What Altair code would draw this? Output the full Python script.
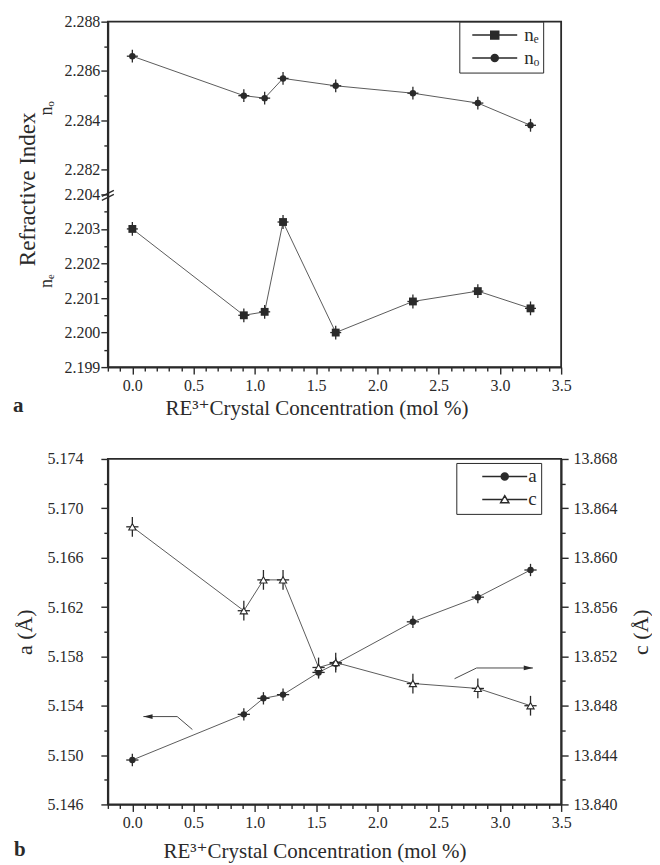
import altair as alt
import pandas as pd

# ---------------- data: panel (a) refractive index ----------------
conc_a = [0.0, 0.91, 1.08, 1.23, 1.66, 2.29, 2.82, 3.25]
n_o = [2.2866, 2.2850, 2.2849, 2.2857, 2.2854, 2.2851, 2.2847, 2.2838]
n_e = [2.2030, 2.2005, 2.2006, 2.2032, 2.2000, 2.2009, 2.2012, 2.2007]
n_o_err = [0.00026, 0.00026, 0.00026, 0.00026, 0.00026, 0.00026, 0.00026, 0.00026]
n_e_err = [0.0002, 0.0002, 0.0002, 0.0002, 0.0002, 0.0002, 0.0002, 0.0002]
conc_a_err = [0.045, 0.045, 0.045, 0.045, 0.045, 0.045, 0.045, 0.045]

# ---------------- data: panel (b) lattice parameters ----------------
conc_b = [0.0, 0.91, 1.07, 1.23, 1.52, 1.66, 2.29, 2.82, 3.25]
a_vals = [5.1496, 5.1533, 5.1546, 5.1549, 5.1567, 5.1574, 5.1608, 5.1628, 5.1650]
c_vals = [13.8625, 13.8557, 13.8582, 13.8582, 13.8511, 13.8515, 13.8498, 13.8494, 13.8480]
a_err = [0.0005, 0.0005, 0.0005, 0.0005, 0.0005, 0.0005, 0.0005, 0.0005, 0.0005]
c_err = [0.0008, 0.0008, 0.0008, 0.0008, 0.0008, 0.0008, 0.0008, 0.0008, 0.0008]
conc_b_err = [0.05, 0.05, 0.05, 0.05, 0.05, 0.05, 0.05, 0.05, 0.05]

# annotation arrows (data coordinates)
arrow_a_x = [0.49, 0.366, 0.09]
arrow_a_y = [5.15207, 5.15312, 5.15312]
arrow_c_x = [2.63, 2.81, 3.27]
arrow_c_y = [13.85019, 13.85106, 13.85106]

# ---------------- tick positions ----------------
x_ticks = [-0.2, -0.1, 0.0, 0.1, 0.2, 0.3, 0.4, 0.5, 0.6, 0.7, 0.8, 0.9, 1.0, 1.1, 1.2,
           1.3, 1.4, 1.5, 1.6, 1.7, 1.8, 1.9, 2.0, 2.1, 2.2, 2.3, 2.4, 2.5, 2.6, 2.7,
           2.8, 2.9, 3.0, 3.1, 3.2, 3.3, 3.4, 3.5]
no_ticks = [2.282, 2.283, 2.284, 2.285, 2.286, 2.287, 2.288]
ne_ticks = [2.199, 2.1995, 2.200, 2.2005, 2.201, 2.2015, 2.202, 2.2025, 2.203, 2.2035, 2.204]
a_ticks = [5.146, 5.148, 5.150, 5.152, 5.154, 5.156, 5.158, 5.160, 5.162, 5.164, 5.166,
           5.168, 5.170, 5.172, 5.174]
c_ticks = [13.840, 13.842, 13.844, 13.846, 13.848, 13.850, 13.852, 13.854, 13.856, 13.858,
           13.860, 13.862, 13.864, 13.866, 13.868]

X_TITLE = "RE³⁺Crystal Concentration (mol %)"

FONT = "Liberation Serif, Times New Roman, DejaVu Serif, serif"
INK = "#2a2a2a"
LINE = "#4a4a4a"
W = 454
H = 346
HALF = 173

xs = alt.Scale(domain=[-0.2, 3.5], nice=False, zero=False)


def tick_axis(orient, values, major_test, fmt, title=None, title_size=17,
              label_pad=1, title_pad=6, **kw):
    return alt.Axis(
        orient=orient, values=values,
        labelExpr=f"({major_test}) ? format(datum.value, '{fmt}') : ''",
        tickSize={"condition": {"test": major_test, "value": 7}, "value": 4},
        labelOverlap=False, labelFlush=False, labelPadding=label_pad,
        title=title, titleFontSize=title_size, titlePadding=title_pad,
        grid=False, **kw)


X_MAJOR = "abs(datum.value*2 - round(datum.value*2)) < 0.001"


def x_bottom_axis(title_pad, title_x):
    return tick_axis("bottom", x_ticks, X_MAJOR, ".1f", title=X_TITLE, title_size=21,
                     label_pad=3, title_pad=title_pad, titleX=title_x)


# legend symbol paths (line + marker), scaled for symbolSize=100 (unit = 5 px)
SQ_PATH = "M-4.5,0H4.5M-0.8,-0.8H0.8V0.8H-0.8Z"
CI_PATH = "M-4.5,0H4.5M0.7,0A0.7,0.7 0 1,1 -0.7,0A0.7,0.7 0 1,1 0.7,0Z"
TRI_PATH = "M-4.5,0H-0.42M0.42,0H4.5M0,-0.75L0.82,0.65L-0.82,0.65Z"
HEAD_L = "M0,0L2.3,-0.6L2.3,0.6Z"
HEAD_R = "M0,0L-2.3,-0.6L-2.3,0.6Z"


def series_layers(df, xaxis, yscale, yaxis, shape, size, filled, line_w=0.9):
    base = alt.Chart(df).transform_calculate(
        lo="datum.val - datum.err", hi="datum.val + datum.err",
        xl="datum.conc - datum.xerr", xh="datum.conc + datum.xerr")
    X = alt.X("conc:Q", scale=xs, axis=xaxis)
    Y = alt.Y("val:Q", scale=yscale, axis=yaxis)
    line = base.mark_line(color=LINE, strokeWidth=line_w).encode(x=X, y=Y)
    vbar = base.mark_rule(color=INK, strokeWidth=1.3).encode(
        x=X, y=alt.Y("lo:Q", scale=yscale, axis=yaxis), y2="hi:Q")
    hbar = base.mark_rule(color=INK, strokeWidth=1.3).encode(
        x=alt.X("xl:Q", scale=xs, axis=xaxis), x2="xh:Q", y=Y)
    if filled:
        pts = base.mark_point(shape=shape, size=size, filled=True, color=INK, opacity=1).encode(x=X, y=Y)
    else:
        pts = base.mark_point(shape=shape, size=size, filled=True, fill="white", stroke=INK,
                              strokeWidth=1.1, opacity=1).encode(x=X, y=Y)
    return [line, vbar, hbar, pts], base, X


def legend(x, y, sym_off, lab_off):
    return alt.Legend(title=None, orient="none", legendX=x, legendY=y, padding=4,
                      strokeColor=INK, fillColor="white", symbolSize=100, symbolOffset=sym_off,
                      labelOffset=lab_off, labelFont=FONT, labelFontSize=19, labelColor=INK,
                      symbolOpacity=1, rowPadding=3)


def text_layer(txt, x, y, size, weight="normal", angle=0, align="left"):
    return alt.Chart(pd.DataFrame({"t": [txt]})).mark_text(
        font=FONT, fontSize=size, fontWeight=weight, color=INK, angle=angle,
        align=align, baseline="middle").encode(text="t:N", x=alt.value(x), y=alt.value(y))


# ---------------- panel (a): broken axis, n_o on top, n_e below ----------------
xa_axis = x_bottom_axis(4, 209)

df_o = pd.DataFrame({"conc": conc_a, "val": n_o, "err": n_o_err, "xerr": conc_a_err})
ys_o = alt.Scale(domain=[2.281, 2.288], range=[HALF, 0], nice=False, zero=False)
y_o_axis = tick_axis("left", no_ticks, "round(datum.value*1000) % 2 == 0", ".3f",
                     title="nₒ", title_size=18, title_pad=8)
lay_o, base_o, X_o = series_layers(df_o, xa_axis, ys_o, y_o_axis, "circle", 42, True)

legend_o = base_o.transform_calculate(series="'nₒ'").mark_point(
    opacity=0, filled=True, color=INK, stroke=INK, strokeWidth=1.1).encode(
    x=X_o, y=alt.Y("val:Q", scale=ys_o, axis=y_o_axis),
    shape=alt.Shape("series:N", scale=alt.Scale(domain=["nₑ", "nₒ"], range=[SQ_PATH, CI_PATH]),
                    legend=legend(352, 0, 22, 20)))

df_e = pd.DataFrame({"conc": conc_a, "val": n_e, "err": n_e_err, "xerr": conc_a_err})
ys_e = alt.Scale(domain=[2.199, 2.204], range=[H, HALF], nice=False, zero=False)
y_e_axis = tick_axis("left", ne_ticks,
                     "abs(datum.value*1000 - round(datum.value*1000)) < 0.01", ".3f",
                     title="nₑ", title_size=18, title_pad=8)
lay_e, base_e, X_e = series_layers(df_e, xa_axis, ys_e, y_e_axis, "square", 62, True)

brk = pd.DataFrame({"k": [0, 1]})
break1 = alt.Chart(brk).transform_filter("datum.k == 0").mark_rule(color=INK, strokeWidth=1.3).encode(
    x=alt.value(-6), x2=alt.value(6), y=alt.value(HALF + 2), y2=alt.value(HALF - 4))
break2 = alt.Chart(brk).transform_filter("datum.k == 1").mark_rule(color=INK, strokeWidth=1.3).encode(
    x=alt.value(-6), x2=alt.value(6), y=alt.value(HALF + 6), y2=alt.value(HALF))

grp_o = alt.layer(*lay_o, legend_o)
grp_e = alt.layer(*lay_e, break1, break2,
                  text_layer("Refractive Index", -80, 168, 23, angle=270, align="center"),
                  text_layer("a", -95, 385, 21, weight="bold"))
panel_a = alt.layer(grp_o, grp_e).resolve_scale(y="independent").resolve_axis(
    y="independent").properties(width=W, height=H)

# ---------------- panel (b): a and c ----------------
df_a = pd.DataFrame({"conc": conc_b, "val": a_vals, "err": a_err, "xerr": conc_b_err})
df_c = pd.DataFrame({"conc": conc_b, "val": c_vals, "err": c_err, "xerr": conc_b_err})
ys_a = alt.Scale(domain=[5.146, 5.174], nice=False, zero=False)
ys_c = alt.Scale(domain=[13.840, 13.868], nice=False, zero=False)
y_a_axis = tick_axis("left", a_ticks, "(round(datum.value*1000) - 5146) % 4 == 0", ".3f",
                     title="a (Å)", title_size=22, label_pad=18, title_pad=10)
y_c_axis = tick_axis("right", c_ticks, "(round(datum.value*1000) - 13840) % 4 == 0", ".3f",
                     title="c (Å)", title_size=22, label_pad=5, title_pad=13,
                     titleAngle=270, titleBaseline="top")
xb_axis = x_bottom_axis(10, 207)

lay_a, base_a, X_a = series_layers(df_a, xb_axis, ys_a, y_a_axis, "circle", 42, True)
lay_c, base_c, X_c = series_layers(df_c, xb_axis, ys_c, y_c_axis, "triangle-up", 52, False)

df_arr_a = pd.DataFrame({"conc": arrow_a_x, "val": arrow_a_y, "i": [0, 1, 2]})
df_arr_c = pd.DataFrame({"conc": arrow_c_x, "val": arrow_c_y, "i": [0, 1, 2]})
arr_a_line = alt.Chart(df_arr_a).mark_line(color=LINE, strokeWidth=1).encode(
    x=alt.X("conc:Q", scale=xs, axis=xb_axis), y=alt.Y("val:Q", scale=ys_a, axis=y_a_axis),
    order="i:Q")
arr_a_head = alt.Chart(df_arr_a).transform_filter("datum.i == 2").mark_point(
    shape=HEAD_L, size=64, filled=True, color=INK, opacity=1).encode(
    x=alt.X("conc:Q", scale=xs, axis=xb_axis), y=alt.Y("val:Q", scale=ys_a, axis=y_a_axis))
arr_c_line = alt.Chart(df_arr_c).mark_line(color=LINE, strokeWidth=1).encode(
    x=alt.X("conc:Q", scale=xs, axis=xb_axis), y=alt.Y("val:Q", scale=ys_c, axis=y_c_axis),
    order="i:Q")
arr_c_head = alt.Chart(df_arr_c).transform_filter("datum.i == 2").mark_point(
    shape=HEAD_R, size=64, filled=True, color=INK, opacity=1).encode(
    x=alt.X("conc:Q", scale=xs, axis=xb_axis), y=alt.Y("val:Q", scale=ys_c, axis=y_c_axis))

leg_b = legend(349, 4, 35, 14)
legend_b = base_c.transform_calculate(series="datum.conc < 0.5 ? 'a' : 'c'").mark_point(
    opacity=0, filled=True, stroke=INK, strokeWidth=1.1).encode(
    x=X_c, y=alt.Y("val:Q", scale=ys_c, axis=y_c_axis),
    shape=alt.Shape("series:N", scale=alt.Scale(domain=["a", "c"], range=[CI_PATH, TRI_PATH]),
                    legend=leg_b),
    fill=alt.Fill("series:N", scale=alt.Scale(domain=["a", "c"], range=[INK, "white"]),
                  legend=leg_b))

grp_a = alt.layer(*lay_a, arr_a_line, arr_a_head, text_layer("b", -94, 392, 21, weight="bold"))
grp_c = alt.layer(*lay_c, arr_c_line, arr_c_head, legend_b)
panel_b = alt.layer(grp_a, grp_c).resolve_scale(y="independent").resolve_axis(
    y="independent").properties(width=W, height=H)

chart = alt.vconcat(panel_a, panel_b, spacing=31).resolve_scale(
    shape="independent", fill="independent").resolve_legend(
    shape="independent", fill="independent").properties(
    padding={"left": 4, "top": 4, "right": 0, "bottom": 1}
).configure_view(stroke=INK, strokeWidth=1.8).configure_axis(
    grid=False, domainColor=INK, domainWidth=1.8, tickColor=INK, tickWidth=1.4,
    labelFont=FONT, labelFontSize=16, labelColor=INK,
    titleFont=FONT, titleColor=INK, titleFontWeight="normal"
).configure_legend(labelFont=FONT)

chart.save("out.html", embed_options={"renderer": "svg", "actions": False})
